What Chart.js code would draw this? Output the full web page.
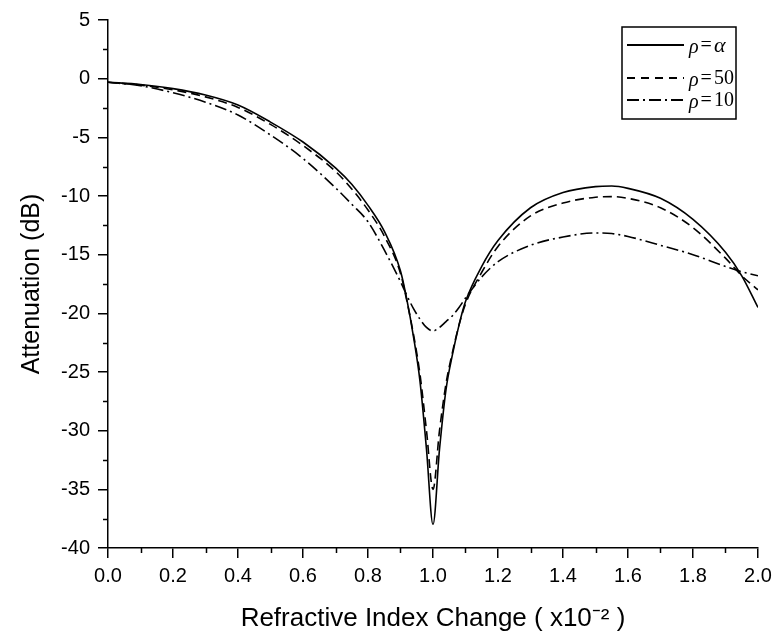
<!DOCTYPE html>
<html><head><meta charset="utf-8">
<script src="https://cdn.jsdelivr.net/npm/chart.js@4.4.1/dist/chart.umd.min.js"></script>
<style>html,body{margin:0;padding:0;background:#fff;}#wrap{width:773px;height:631px;}</style>
</head><body><div id="wrap"><canvas id="c" width="773" height="631"></canvas></div>
<script>
// Refractive index change (x10^-2)
const xValues = [0, 0.1, 0.2, 0.3, 0.4, 0.5, 0.6, 0.7, 0.75, 0.8, 0.85, 0.9, 0.92, 0.94, 0.96, 0.98, 1.0, 1.02, 1.04, 1.06, 1.08, 1.1, 1.15, 1.2, 1.3, 1.4, 1.5, 1.55, 1.6, 1.7, 1.8, 1.9, 1.95, 2.0];
// Attenuation (dB)
const rhoInf = [-0.3, -0.5, -0.85, -1.4, -2.25, -3.7, -5.4, -7.6, -9.0, -10.8, -13.0, -16.4, -18.9, -22.0, -25.8, -31.6, -38.0, -31.6, -26.5, -23.5, -21.0, -19.0, -16.0, -13.8, -11.0, -9.7, -9.2, -9.15, -9.35, -10.2, -12.0, -14.8, -16.8, -19.5];
const rho50 = [-0.3, -0.55, -0.95, -1.55, -2.45, -3.9, -5.7, -7.9, -9.4, -11.2, -13.4, -16.6, -19.0, -21.8, -25.2, -30.0, -35.0, -30.0, -26.0, -23.3, -21.0, -19.2, -16.5, -14.3, -11.7, -10.6, -10.1, -10.05, -10.2, -11.0, -12.7, -15.3, -16.8, -18.0];
const rho10 = [-0.3, -0.6, -1.2, -2.0, -3.1, -4.8, -6.8, -9.3, -10.7, -12.2, -14.6, -17.3, -18.5, -19.6, -20.5, -21.2, -21.5, -21.2, -20.7, -20.2, -19.5, -18.7, -16.9, -15.6, -14.2, -13.5, -13.15, -13.2, -13.45, -14.2, -15.0, -16.0, -16.45, -16.8];
const seriesLabels = ['ρ = α', 'ρ = 50', 'ρ = 10'];
const xAxisTitle = 'Refractive Index Change ( x10⁻² )';
const yAxisTitle = 'Attenuation (dB)';

const toPts = (ys) => xValues.map((x, i) => ({x: x, y: ys[i]}));
const dashes = [[], [9, 5], [12, 4, 2, 4]];
const seriesData = [rhoInf, rho50, rho10];

const datasets = seriesData.map((ys, i) => ({
  label: seriesLabels[i],
  data: toPts(ys),
  borderColor: '#000',
  borderWidth: 1.6,
  borderDash: dashes[i],
  pointRadius: 0,
  fill: false,
  cubicInterpolationMode: 'monotone'
}));

const minorTicks = {
  id: 'minorTicks',
  afterDraw(chart) {
    const ctx = chart.ctx;
    const xs = chart.scales.x, ys = chart.scales.y;
    ctx.save();
    ctx.strokeStyle = '#000';
    ctx.lineWidth = 1.5;
    ctx.beginPath();
    for (let v = 0.1; v < 2.0; v += 0.2) {
      const px = Math.round(xs.getPixelForValue(v)) + 0.5;
      ctx.moveTo(px, ys.bottom);
      ctx.lineTo(px, ys.bottom + 5);
    }
    for (let v = -37.5; v < 5; v += 5) {
      const py = Math.round(ys.getPixelForValue(v)) + 0.5;
      ctx.moveTo(xs.left, py);
      ctx.lineTo(xs.left - 5, py);
    }
    ctx.stroke();
    ctx.restore();
  }
};

const boxLegend = {
  id: 'boxLegend',
  afterDraw(chart) {
    const ctx = chart.ctx;
    ctx.save();
    const bx = 622, by = 27, bw = 114, bh = 92;
    ctx.strokeStyle = '#000';
    ctx.lineWidth = 1.5;
    ctx.strokeRect(bx, by, bw, bh);
    const rows = [45, 78, 100];
    chart.data.datasets.forEach((ds, i) => {
      const y = rows[i];
      ctx.beginPath();
      ctx.setLineDash(i === 1 ? [8, 6] : (ds.borderDash || []));
      ctx.lineWidth = i === 0 ? 2.2 : 1.8;
      ctx.moveTo(627, y);
      ctx.lineTo(684, y);
      ctx.stroke();
      ctx.setLineDash([]);
      const parts = ds.label.split(' ');
      let tx = 689;
      ctx.fillStyle = '#000';
      ctx.textBaseline = 'middle';
      ctx.font = 'italic 20px "Liberation Serif"';
      ctx.fillText(parts[0], tx, y + 3);
      tx += ctx.measureText(parts[0]).width + 2;
      ctx.font = '20px "Liberation Serif"';
      ctx.fillText(parts[1], tx, y + 1);
      tx += ctx.measureText(parts[1]).width + 2;
      ctx.font = (parts[2] === 'α' ? 'italic 22px' : '20px') + ' "Liberation Serif"';
      ctx.fillText(parts[2], tx, y + 1);
    });
    ctx.restore();
  }
};

new Chart(document.getElementById('c'), {
  type: 'line',
  data: { datasets },
  options: {
    responsive: false,
    devicePixelRatio: 1,
    animation: false,
    layout: { padding: { top: 20, right: 15, left: 0, bottom: 0 } },
    plugins: { legend: { display: false }, tooltip: { enabled: false } },
    scales: {
      x: {
        type: 'linear', min: 0, max: 2,
        afterFit(s) { s.height = 83; s.paddingRight = 0; s.paddingLeft = 0; },
        ticks: { stepSize: 0.2, color: '#000', font: { family: 'Liberation Sans', size: 20 }, padding: 6, maxRotation: 0,
          callback: (v) => Number(v).toFixed(1) },
        grid: { drawOnChartArea: false, drawTicks: true, tickLength: 10, color: '#000', lineWidth: 1.5 },
        border: { display: true, color: '#000', width: 1.5 },
        title: { display: true, text: xAxisTitle, color: '#000', font: { family: 'Liberation Sans', size: 26 }, padding: { top: 0, bottom: -3 } }
      },
      y: {
        type: 'linear', min: -40, max: 5,
        afterFit(s) { s.width = 108; },
        ticks: { stepSize: 5, color: '#000', font: { family: 'Liberation Sans', size: 20 }, padding: 8 },
        grid: { drawOnChartArea: false, drawTicks: true, tickLength: 10, color: '#000', lineWidth: 1.5 },
        border: { display: true, color: '#000', width: 1.5 },
        title: { display: true, text: yAxisTitle, color: '#000', font: { family: 'Liberation Sans', size: 25 }, padding: { top: 17, bottom: 0 } }
      }
    }
  },
  plugins: [minorTicks, boxLegend]
});
</script></body></html>
